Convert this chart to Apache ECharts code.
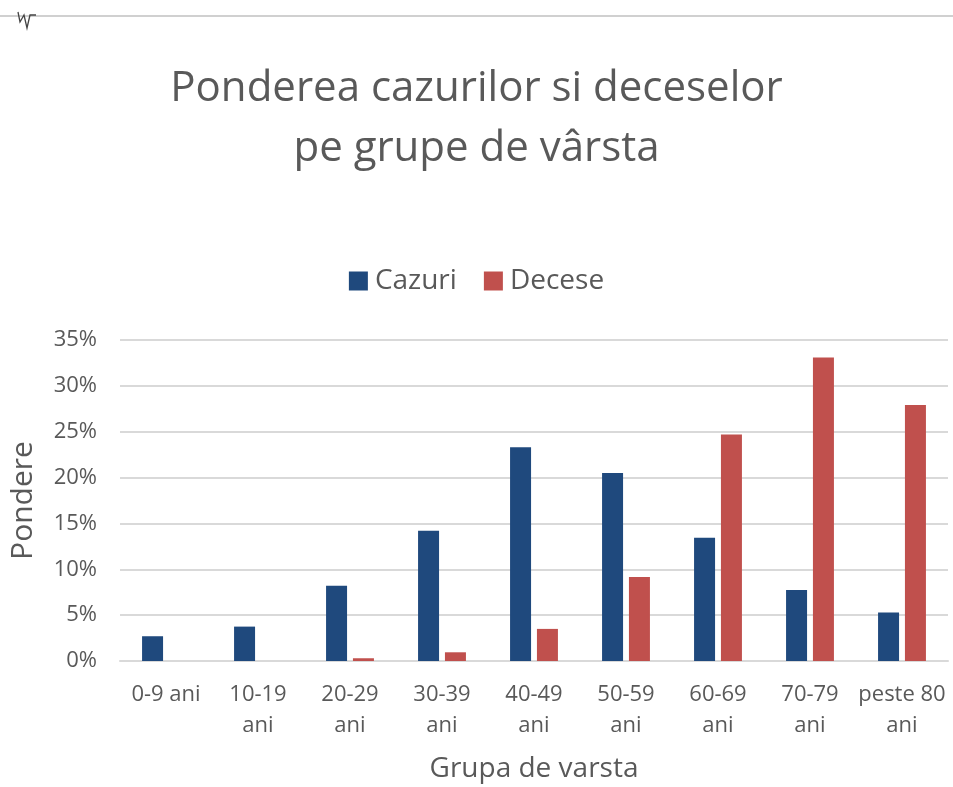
<!DOCTYPE html>
<html>
<head>
<meta charset="utf-8">
<script src="https://cdn.jsdelivr.net/npm/echarts@6/dist/echarts.min.js"></script>
<style>
  html, body { margin: 0; padding: 0; background: #fff; }
  #chart { width: 953px; height: 787px; }
</style>
</head>
<body>
<div id="chart"></div>
<script>
// age groups on the x axis
const categories = ['0-9 ani', '10-19\nani', '20-29\nani', '30-39\nani', '40-49\nani',
  '50-59\nani', '60-69\nani', '70-79\nani', 'peste 80\nani'];

// shares, in percent
const cazuri = [2.7, 3.75, 8.2, 14.2, 23.3, 20.5, 13.45, 7.75, 5.3];
const decese = [0, 0, 0.3, 0.95, 3.5, 9.15, 24.7, 33.1, 27.9];

const yTicks = { min: 0, max: 35, interval: 5 };

const FONT = 'Open Sans';
const TEXT = '#595959';

const chart = echarts.init(document.getElementById('chart'));

chart.setOption({
  backgroundColor: '#fff',
  animation: false,
  textStyle: { fontFamily: FONT, color: TEXT },
  title: {
    text: 'Ponderea cazurilor si deceselor\npe grupe de vârsta',
    left: 'center',
    top: 54,
    textStyle: { fontFamily: FONT, fontSize: 42, fontWeight: 'normal', color: TEXT, lineHeight: 60 },
  },
  legend: {
    top: 262,
    left: 'center',
    itemWidth: 19,
    itemHeight: 19,
    itemGap: 27,
    icon: 'rect',
    textStyle: { fontFamily: FONT, fontSize: 28, color: TEXT, padding: [0, 0, 0, 2] },
    data: ['Cazuri', 'Decese'],
  },
  grid: { left: 120, right: 5, top: 340, bottom: 126 },
  xAxis: {
    type: 'category',
    data: categories,
    name: 'Grupa de varsta',
    nameLocation: 'middle',
    nameGap: 94,
    nameTextStyle: { fontFamily: FONT, fontSize: 28, color: TEXT },
    axisLine: { show: true, lineStyle: { color: '#d9d9d9', width: 2 } },
    axisTick: { show: false },
    axisLabel: {
      interval: 0,
      margin: 18,
      fontFamily: FONT,
      fontSize: 22,
      lineHeight: 31,
      color: TEXT,
      verticalAlign: 'top',
    },
  },
  yAxis: {
    type: 'value',
    min: yTicks.min,
    max: yTicks.max,
    interval: yTicks.interval,
    name: 'Pondere',
    nameLocation: 'middle',
    nameGap: 82,
    nameTextStyle: { fontFamily: FONT, fontSize: 30, color: TEXT },
    axisLine: { show: false },
    axisTick: { show: false },
    splitLine: { lineStyle: { color: '#d9d9d9', width: 2 } },
    axisLabel: {
      margin: 23,
      fontFamily: FONT,
      fontSize: 22,
      color: TEXT,
      formatter: (v) => v + '%',
    },
  },
  series: [
    {
      name: 'Cazuri',
      type: 'bar',
      data: cazuri,
      barWidth: 21,
      barGap: '28%',
      itemStyle: { color: '#1f497d' },
    },
    {
      name: 'Decese',
      type: 'bar',
      data: decese,
      barWidth: 21,
      itemStyle: { color: '#c0504d' },
    },
  ],
  graphic: [
    {
      type: 'line',
      shape: { x1: 0, y1: 16, x2: 953, y2: 16 },
      style: { stroke: '#d0d0d0', lineWidth: 2 },
    },
    {
      type: 'polyline',
      shape: { points: [[18, 12], [20, 22], [24, 15], [27, 28], [30, 15], [36, 15]] },
      style: { stroke: '#444', lineWidth: 1.3, fill: null },
    },
  ],
});
</script>
</body>
</html>
